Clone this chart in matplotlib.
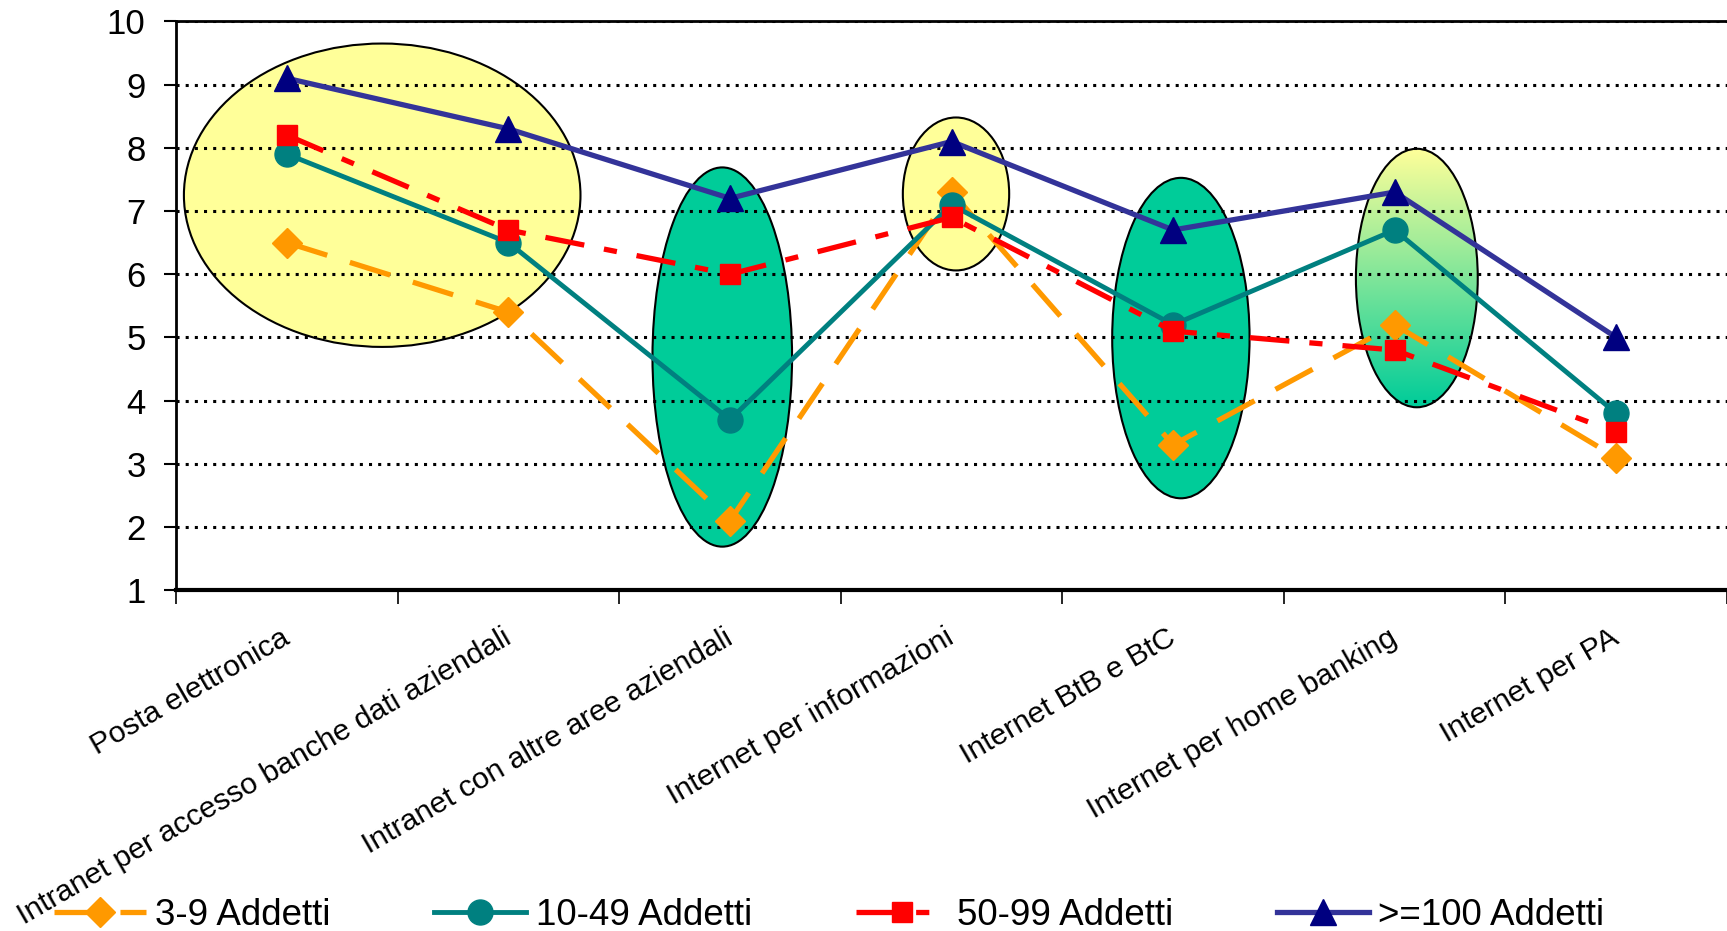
import numpy as np
import matplotlib.pyplot as plt
import matplotlib.transforms as mtransforms
from matplotlib.patches import Ellipse
from matplotlib.colors import LinearSegmentedColormap

# Categories and series values
categories = ["Posta elettronica",
              "Intranet per accesso banche dati aziendali",
              "Intranet con altre aree aziendali",
              "Internet per informazioni",
              "Internet BtB e BtC",
              "Internet per home banking",
              "Internet per PA"]
addetti_3_9 = [6.5, 5.4, 2.1, 7.3, 3.3, 5.2, 3.1]
addetti_10_49 = [7.9, 6.5, 3.7, 7.1, 5.2, 6.7, 3.8]
addetti_50_99 = [8.2, 6.7, 6.0, 6.9, 5.1, 4.8, 3.5]
addetti_100 = [9.1, 8.3, 7.2, 8.1, 6.7, 7.3, 5.0]
series_labels = ["3-9 Addetti", "10-49 Addetti", "50-99 Addetti", ">=100 Addetti"]
y_ticks = [1, 2, 3, 4, 5, 6, 7, 8, 9, 10]

# highlight ellipses: (x centre, y centre, width, height, fill)
highlights = [
    (0.43, 7.25, 1.79, 4.8, "#FFFF99"),
    (1.965, 4.69, 0.63, 6.0, "#00CC99"),
    (3.02, 7.27, 0.48, 2.42, "#FFFF99"),
    (4.035, 4.99, 0.62, 5.07, "#00CC99"),
    (5.1, 5.94, 0.55, 4.09, "gradient"),
]

plt.rcParams['font.family'] = ['Liberation Sans', 'DejaVu Sans']

fig = plt.figure(figsize=(17.27, 9.31), dpi=100)
ax = fig.add_axes([0.102, 0.366, 0.898, 0.611])

x = np.arange(len(categories))

# draw the ellipses behind everything
grad_cmap = LinearSegmentedColormap.from_list('grad', ["#FFFF99", "#00CC99"])
for cx, cy, w, h, fill in highlights:
    if fill == "gradient":
        e = Ellipse((cx, cy), w, h, facecolor='none', edgecolor='black', lw=1.5, zorder=0.3)
        ax.add_patch(e)
        grad = np.linspace(0, 1, 256).reshape(-1, 1)
        im = ax.imshow(grad, cmap=grad_cmap, aspect='auto', origin='upper',
                       extent=(cx - w / 2, cx + w / 2, cy - h / 2, cy + h / 2), zorder=0.2)
        im.set_clip_path(e)
    else:
        ax.add_patch(Ellipse((cx, cy), w, h, facecolor=fill, edgecolor='black', lw=1.5, zorder=0.2))

# dotted gridlines
for yv in y_ticks[1:]:
    ax.axhline(yv, color='black', lw=2.2, ls=(0, (1, 2)), zorder=0.5)

# the four series
ax.plot(x, addetti_3_9, color='#FF9900', lw=3.8, dashes=(8, 4.5), marker='D', ms=15,
        mfc='#FF9900', mec='#FF9900', label=series_labels[0], zorder=3)
ax.plot(x, addetti_10_49, color='#008080', lw=3.5, marker='o', ms=18,
        mfc='#008080', mec='#008080', label=series_labels[1], zorder=4)
ax.plot(x, addetti_50_99, color='#FF0000', lw=3.8, dashes=(7.5, 3.8, 2.5, 3.8), marker='s', ms=14,
        mfc='#FF0000', mec='#FF0000', label=series_labels[2], zorder=5)
ax.plot(x, addetti_100, color='#333399', lw=3.8, marker='^', ms=19,
        mfc='#000080', mec='#000080', label=series_labels[3], zorder=6)

ax.set_xlim(-0.5, len(categories) - 0.5)
ax.set_ylim(1, 10)
ax.set_yticks(y_ticks)
ax.tick_params(axis='y', direction='out', length=9, width=1.5, pad=13, labelsize=25)

# category labels at centres, tick marks at boundaries
ax.set_xticks(x)
ax.set_xticklabels(categories, rotation=30, ha='right', va='top', rotation_mode='anchor', fontsize=21.7)
ax.tick_params(axis='x', which='major', length=0, pad=24)
shift = mtransforms.ScaledTranslation(-7 / 100, 0, fig.dpi_scale_trans)
for lbl in ax.get_xticklabels():
    lbl.set_transform(lbl.get_transform() + shift)
ax.set_xticks(np.arange(-0.5, len(categories), 1.0), minor=True)
ax.tick_params(axis='x', which='minor', direction='out', length=10, width=1.2)

ax.spines['right'].set_visible(False)
ax.spines['left'].set_linewidth(2)
ax.spines['top'].set_linewidth(2)
ax.spines['bottom'].set_linewidth(3)

fig.legend(loc='center', bbox_to_anchor=(0.48, 0.017), ncol=4, frameon=False, fontsize=26.5,
           handlelength=2.5, columnspacing=2.82, handletextpad=0.25)

fig.savefig("out.png", dpi=100)
